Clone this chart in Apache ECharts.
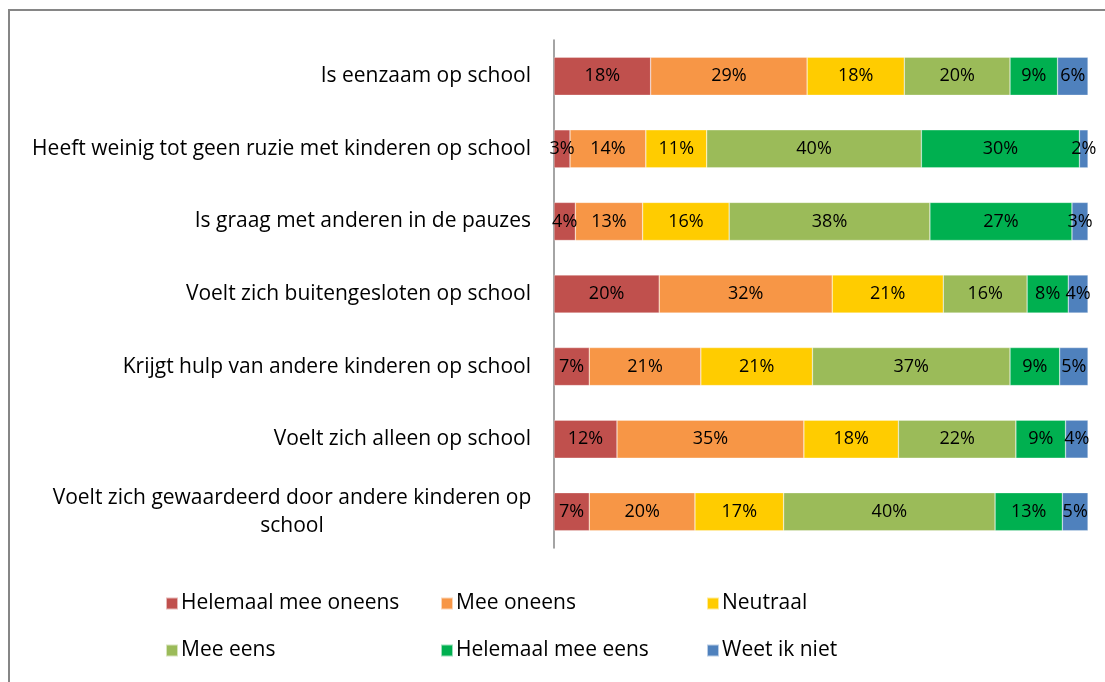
<!DOCTYPE html>
<html>
<head>
<meta charset="utf-8">
<script src="https://cdn.jsdelivr.net/npm/echarts@6/dist/echarts.min.js"></script>
<style>
  html, body { margin: 0; padding: 0; background: #fff; }
  #chart { width: 1105px; height: 682px; }
</style>
</head>
<body>
<div id="chart"></div>
<script>
// vragen (boven naar beneden)
var categories = [
  'Is eenzaam op school',
  'Heeft weinig tot geen ruzie met kinderen op school',
  'Is graag met anderen in de pauzes',
  'Voelt zich buitengesloten op school',
  'Krijgt hulp van andere kinderen op school',
  'Voelt zich alleen op school',
  'Voelt zich gewaardeerd door andere kinderen op\nschool'
];

var seriesNames = ['Helemaal mee oneens', 'Mee oneens', 'Neutraal', 'Mee eens', 'Helemaal mee eens', 'Weet ik niet'];
var colors = ['#C0504D', '#F79646', '#FFCC00', '#9BBB59', '#00B050', '#4F81BD'];

// percentages per antwoord, zelfde volgorde als categories
var helemaalOneens = [18.1, 3.0, 4.0, 19.7, 6.6, 11.8, 6.6];
var oneens         = [29.3, 14.2, 12.6, 32.4, 20.9, 35.0, 19.8];
var neutraal       = [18.2, 11.4, 16.2, 20.8, 20.9, 17.7, 16.6];
var eens           = [19.8, 40.2, 37.6, 15.7, 37.0, 22.0, 39.6];
var helemaalEens   = [8.9, 29.6, 26.6, 7.7, 9.3, 9.3, 12.6];
var weetNiet       = [5.7, 1.6, 3.0, 3.7, 5.3, 4.2, 4.8];

var values = [helemaalOneens, oneens, neutraal, eens, helemaalEens, weetNiet];

var font = 'Open Sans';

var chart = echarts.init(document.getElementById('chart'));

var option = {
  animation: false,
  backgroundColor: '#fff',
  color: colors,
  textStyle: { fontFamily: font },
  grid: { left: 554, right: 17, top: 40, bottom: 134 },
  xAxis: {
    type: 'value',
    min: 0,
    max: 100,
    show: false
  },
  yAxis: {
    type: 'category',
    inverse: true,
    data: categories,
    axisLine: { show: true, lineStyle: { color: '#868686', width: 1.5 } },
    axisTick: { show: false },
    axisLabel: {
      margin: 23,
      color: '#000',
      fontSize: 21,
      fontFamily: font,
      formatter: function (v) {
        if (v.indexOf('\n') < 0) return v;
        return v.split('\n').map(function (l) { return '{c|' + l + '}'; }).join('\n');
      },
      rich: {
        c: { width: 478, align: 'center', fontSize: 21, fontFamily: font, color: '#000', lineHeight: 28 }
      }
    }
  },
  legend: [
    { data: [seriesNames[0], seriesNames[3]], left: 160 },
    { data: [seriesNames[1], seriesNames[4]], left: 435 },
    { data: [seriesNames[2], seriesNames[5]], left: 701 }
  ].map(function (l) {
    return Object.assign({
      orient: 'vertical',
      top: 588,
      itemGap: 26,
      itemWidth: 12,
      itemHeight: 12,
      icon: 'rect',
      textStyle: { fontSize: 21, color: '#000', fontFamily: font, padding: [0, 0, 0, -2] }
    }, l);
  }),
  graphic: [{
    type: 'rect',
    shape: { x: 9, y: 10, width: 1200, height: 800 },
    style: { fill: 'none', stroke: '#868686', lineWidth: 2 },
    silent: true
  }],
  series: seriesNames.map(function (name, i) {
    return {
      name: name,
      type: 'bar',
      stack: 'totaal',
      barWidth: 38,
      data: values[i],
      itemStyle: { borderColor: 'rgba(255,255,255,0.6)', borderWidth: 0.5 },
      label: {
        show: true,
        position: 'inside',
        color: '#000',
        fontSize: 18,
        fontFamily: font,
        formatter: function (p) { return Math.round(p.value) + '%'; }
      }
    };
  })
};

chart.setOption(option);
</script>
</body>
</html>
